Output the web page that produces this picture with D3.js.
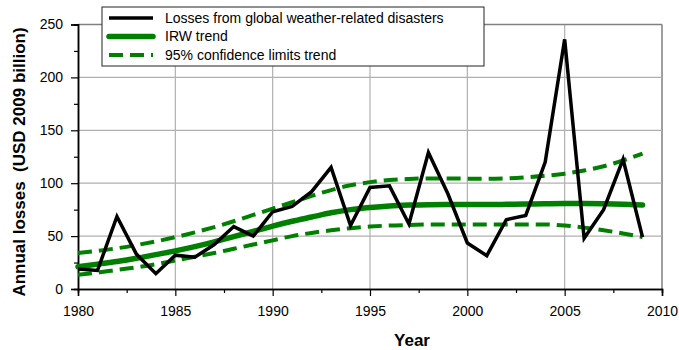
<!DOCTYPE html>
<html>
<head>
<meta charset="utf-8">
<script src="https://cdn.jsdelivr.net/npm/d3@7"></script>
<style>
  body { margin: 0; background: #fff; }
  svg { font-family: "Liberation Sans", Arial, sans-serif; display: block; }
</style>
</head>
<body>
<div id="chart"></div>
<script>
// Data
const years = d3.range(1980, 2010);
const losses = [19, 17.5, 68.5, 33, 14.5, 32, 30, 42, 59, 50,
  73, 78, 92, 115, 60, 96, 97.5, 61.5, 129, 90,
  43.5, 31.5, 65.5, 69.5, 120, 236, 48, 75, 122.5, 49];
const trend = [21, 23.5, 26, 29, 32.5, 36, 40, 44.5, 49.5, 54.5,
  59.5, 64, 68, 72, 75, 77, 78.5, 79.3, 79.7, 79.8,
  79.8, 79.8, 80, 80.3, 80.6, 80.8, 80.8, 80.6, 80.2, 79.5];
const upper = [34, 36, 38.5, 41.5, 45, 49, 53.5, 58.5, 64, 70,
  76, 82, 88, 93.5, 98, 101, 103, 104, 104.5, 104.5,
  104.3, 104.2, 104.5, 105.5, 107, 109, 112, 116, 121.5, 128];
const lower = [13.5, 15.5, 18, 20.5, 23.5, 27, 30.5, 34, 38, 42,
  46, 50, 53, 55.5, 57.5, 59, 60, 60.5, 61, 61,
  61, 61, 61, 61, 61, 60, 58, 55.5, 52.5, 49];
const xTicks = d3.range(1980, 2011, 5);
const yTicks = d3.range(0, 251, 50);
const legendLabels = ["Losses from global weather-related disasters", "IRW trend", "95% confidence limits trend"];

const width = 679, height = 350;
const margin = {top: 24.5, right: 17, bottom: 61, left: 78};
const innerWidth = width - margin.left - margin.right;
const innerHeight = height - margin.top - margin.bottom;

const svg = d3.select("#chart")
  .append("svg")
    .attr("width", width)
    .attr("height", height)
    .attr("viewBox", `0 0 ${width} ${height}`);

const innerChart = svg.append("g")
  .attr("transform", `translate(${margin.left}, ${margin.top})`);

// Scales
const xScale = d3.scaleLinear().domain([1980, 2010]).range([0, innerWidth]);
const yScale = d3.scaleLinear().domain([0, 250]).range([innerHeight, 0]);

// Gridlines
innerChart.append("g")
  .selectAll("line")
  .data(xTicks.slice(1))
  .join("line")
    .attr("x1", d => xScale(d)).attr("x2", d => xScale(d))
    .attr("y1", 0).attr("y2", innerHeight)
    .attr("stroke", d => d === 2010 ? "#808080" : "#b0b0b0")
    .attr("stroke-width", d => d === 2010 ? 1.5 : 1.2);
innerChart.append("g")
  .selectAll("line")
  .data(yTicks.slice(1))
  .join("line")
    .attr("x1", 0).attr("x2", innerWidth)
    .attr("y1", d => yScale(d)).attr("y2", d => yScale(d))
    .attr("stroke", d => d === 250 ? "#808080" : "#b0b0b0")
    .attr("stroke-width", d => d === 250 ? 1.5 : 1.2);

// Axes
const bottomAxis = d3.axisBottom(xScale).tickValues(xTicks).tickFormat(d3.format("d")).tickSize(7).tickPadding(10);
const bottomMinor = d3.axisBottom(xScale).tickValues(d3.range(1982.5, 2010, 5)).tickSize(4);
const leftAxis = d3.axisLeft(yScale).tickValues(yTicks).tickSize(7).tickPadding(8);
const leftMinor = d3.axisLeft(yScale).tickValues(d3.range(25, 250, 50)).tickSize(4);

innerChart.append("g").attr("transform", `translate(0, ${innerHeight})`).call(bottomMinor)
  .selectAll("text").remove();
innerChart.append("g").call(leftMinor)
  .selectAll("text").remove();
innerChart.append("g").attr("class", "axis-x")
  .attr("transform", `translate(0, ${innerHeight})`).call(bottomAxis);
innerChart.append("g").attr("class", "axis-y").call(leftAxis);

innerChart.selectAll(".domain").attr("stroke", "#000").attr("stroke-width", 1.5);
innerChart.selectAll(".tick line").attr("stroke", "#000").attr("stroke-width", 1.2);
innerChart.selectAll(".tick text").attr("font-size", "14px").attr("fill", "#000")
  .attr("font-family", "'Liberation Sans', Arial, sans-serif");

// Axis labels
svg.append("text")
  .text("Year")
  .attr("x", 412)
  .attr("y", 346)
  .attr("text-anchor", "middle")
  .style("font-size", "17px")
  .style("font-weight", "bold");
svg.append("text")
  .text("Annual losses\u00a0\u00a0(USD 2009 billion)")
  .attr("transform", `translate(25, 162) rotate(-90)`)
  .attr("text-anchor", "middle")
  .style("font-size", "17px")
  .style("font-weight", "bold");

// Lines
const line = vals => d3.line()
  .x((d, i) => xScale(years[i]))
  .y(d => yScale(d))(vals);
const smooth = vals => d3.line()
  .x((d, i) => xScale(years[i]))
  .y(d => yScale(d))
  .curve(d3.curveMonotoneX)(vals);

[upper, lower].forEach(vals => {
  innerChart.append("path")
    .attr("d", smooth(vals))
    .attr("fill", "none")
    .attr("stroke", "#008000")
    .attr("stroke-width", 4)
    .attr("stroke-dasharray", "14,7");
});
innerChart.append("path")
  .attr("d", smooth(trend))
  .attr("fill", "none")
  .attr("stroke", "#008000")
  .attr("stroke-width", 5.5)
  .attr("stroke-linecap", "round");
innerChart.append("path")
  .attr("d", line(losses))
  .attr("fill", "none")
  .attr("stroke", "#000")
  .attr("stroke-width", 3.5)
  .attr("stroke-linejoin", "miter");

// Legend
const legend = svg.append("g").attr("transform", "translate(102, 7)");
legend.append("rect")
  .attr("width", 382).attr("height", 59)
  .attr("fill", "#fff").attr("stroke", "#222").attr("stroke-width", 1);
const legendStyles = [
  {stroke: "#000", width: 3.5, dash: null},
  {stroke: "#008000", width: 5.5, dash: null},
  {stroke: "#008000", width: 4, dash: "14,7"}
];
const rows = legend.selectAll(".row")
  .data(legendLabels)
  .join("g")
    .attr("class", "row")
    .attr("transform", (d, i) => `translate(0, ${11 + i * 18.5})`);
rows.append("line")
  .attr("x1", 7).attr("x2", 51)
  .attr("stroke", (d, i) => legendStyles[i].stroke)
  .attr("stroke-width", (d, i) => legendStyles[i].width)
  .attr("stroke-dasharray", (d, i) => legendStyles[i].dash)
  .attr("stroke-linecap", (d, i) => i === 1 ? "round" : "butt");
rows.append("text")
  .text(d => d)
  .attr("x", 63)
  .attr("dy", "0.35em")
  .style("font-size", "14px");
</script>
</body>
</html>
